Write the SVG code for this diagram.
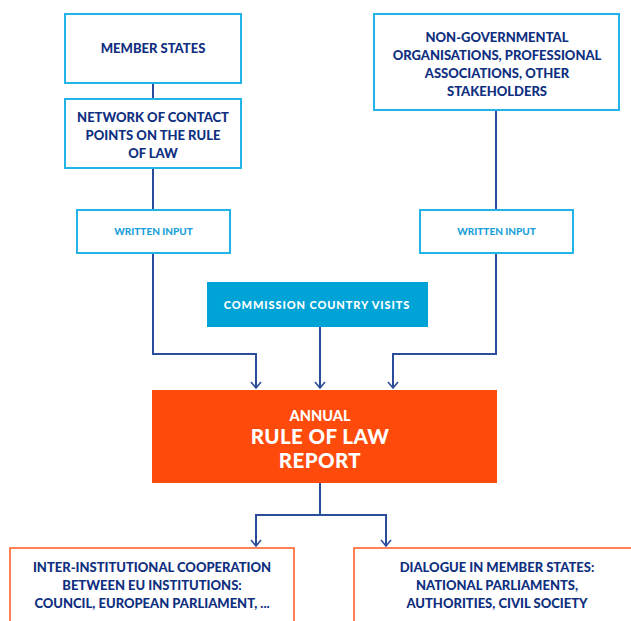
<svg xmlns="http://www.w3.org/2000/svg" width="631" height="621" viewBox="0 0 631 621">
<defs>
<style>
.box{fill:#ffffff;stroke:#22b4e6;stroke-width:2}
.obox{fill:#ffffff;stroke:#ff5a1f;stroke-width:1.5}
.t{font-family:Lato,"Liberation Sans",Arial,sans-serif;font-weight:900;fill:#0f2f7f;font-size:13px;text-anchor:middle}
.wi{font-family:Lato,"Liberation Sans",Arial,sans-serif;font-weight:900;fill:#1a9fd9;font-size:10px;text-anchor:middle}
.w{font-family:Lato,"Liberation Sans",Arial,sans-serif;font-weight:900;fill:#ffffff;text-anchor:middle}
.c{fill:none;stroke:#2b4c9b;stroke-width:2}
</style>
<marker id="ah" viewBox="0 0 8 12" refX="7" refY="6" markerWidth="8" markerHeight="12" markerUnits="userSpaceOnUse" orient="auto">
<path d="M1,1 L7,6 L1,11" fill="none" stroke="#2b4c9b" stroke-width="1.6"/>
</marker>
</defs>
<rect width="631" height="621" fill="#ffffff"/>
<g id="connectors">
<line class="c" x1="153" y1="83" x2="153" y2="99"/>
<line class="c" x1="153" y1="168" x2="153" y2="210"/>
<line class="c" x1="496" y1="110" x2="496" y2="210"/>
<polyline class="c" points="153,253 153,354 256,354 256,388" marker-end="url(#ah)"/>
<line class="c" x1="320" y1="327" x2="320" y2="388" marker-end="url(#ah)"/>
<polyline class="c" points="496,253 496,354 393,354 393,388" marker-end="url(#ah)"/>
<line class="c" x1="320" y1="483" x2="320" y2="515"/>
<polyline class="c" points="320,515 256,515 256,546" marker-end="url(#ah)"/>
<polyline class="c" points="320,515 386,515 386,546" marker-end="url(#ah)"/>
</g>
<g id="member-states">
<rect class="box" x="65" y="14" width="176" height="69"/>
<text class="t" x="153" y="53">MEMBER STATES</text>
</g>
<g id="network">
<rect class="box" x="65" y="99" width="176" height="69"/>
<text class="t" x="153" y="122">NETWORK OF CONTACT</text>
<text class="t" x="153" y="140">POINTS ON THE RULE</text>
<text class="t" x="153" y="158">OF LAW</text>
</g>
<g id="ngo">
<rect class="box" x="374" y="14" width="245" height="96"/>
<text class="t" x="497" y="42">NON-GOVERNMENTAL</text>
<text class="t" x="497" y="60">ORGANISATIONS, PROFESSIONAL</text>
<text class="t" x="497" y="78">ASSOCIATIONS, OTHER</text>
<text class="t" x="497" y="96">STAKEHOLDERS</text>
</g>
<g id="written-input-left">
<rect class="box" x="77" y="210" width="153" height="43"/>
<text class="wi" x="153.5" y="235">WRITTEN INPUT</text>
</g>
<g id="written-input-right">
<rect class="box" x="420" y="210" width="153" height="43"/>
<text class="wi" x="496.5" y="235">WRITTEN INPUT</text>
</g>
<g id="commission-visits">
<rect x="207" y="282" width="221" height="45" fill="#00a3d6"/>
<text class="w" x="317" y="309" font-size="11" letter-spacing="0.9">COMMISSION COUNTRY VISITS</text>
</g>
<g id="report">
<rect x="152" y="390" width="345" height="93" fill="#fe4b0c"/>
<text class="w" x="320" y="421" font-size="14.5">ANNUAL</text>
<text class="w" x="320" y="444" font-size="20.5" letter-spacing="0.4">RULE OF LAW</text>
<text class="w" x="320" y="468" font-size="20.5" letter-spacing="0.4">REPORT</text>
</g>
<g id="inter-institutional">
<rect class="obox" x="10" y="548" width="284" height="80"/>
<text class="t" x="152" y="572">INTER-INSTITUTIONAL COOPERATION</text>
<text class="t" x="152" y="590">BETWEEN EU INSTITUTIONS:</text>
<text class="t" x="152" y="608">COUNCIL, EUROPEAN PARLIAMENT, ...</text>
</g>
<g id="dialogue">
<rect class="obox" x="354" y="548" width="290" height="80"/>
<text class="t" x="497" y="572">DIALOGUE IN MEMBER STATES:</text>
<text class="t" x="497" y="590">NATIONAL PARLIAMENTS,</text>
<text class="t" x="497" y="608">AUTHORITIES, CIVIL SOCIETY</text>
</g>
</svg>
